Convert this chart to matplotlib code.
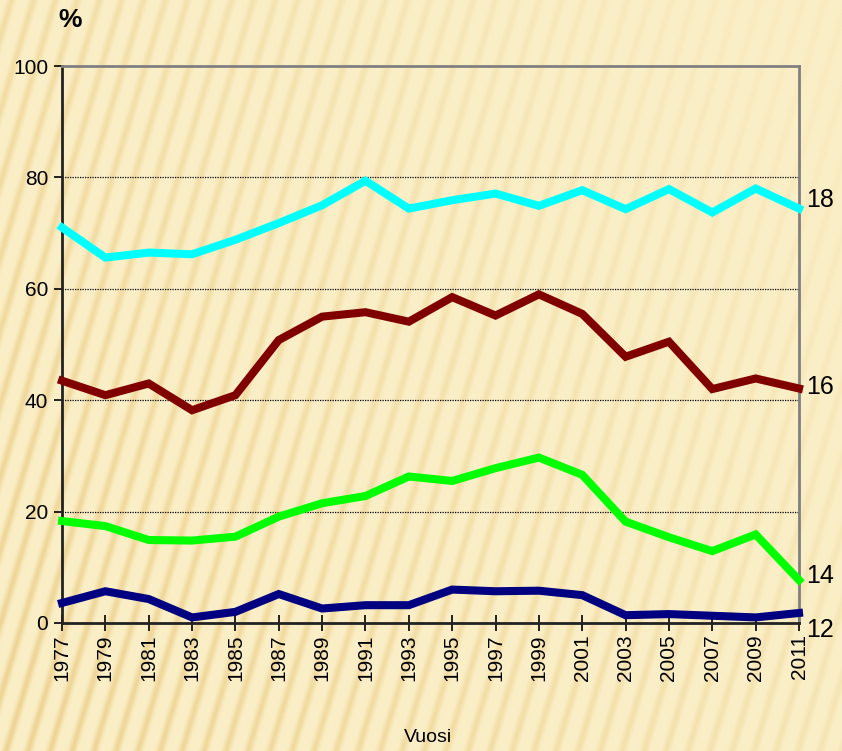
import numpy as np
import matplotlib
matplotlib.use("Agg")
import matplotlib.pyplot as plt

plt.rcParams['font.family'] = ['Liberation Sans', 'DejaVu Sans']

years = list(range(1977, 2012, 2))
year_labels = [str(y) for y in years]

series_18 = [71.0, 65.6, 66.5, 66.2, 68.8, 71.8, 75.0, 79.4, 74.4,
             75.9, 77.1, 74.9, 77.7, 74.3, 77.9, 73.7, 78.0, 74.4]
series_16 = [43.5, 40.9, 43.0, 38.2, 40.9, 50.8, 55.0, 55.8, 54.1,
             58.5, 55.2, 59.0, 55.5, 47.8, 50.5, 42.0, 43.9, 42.1]
series_14 = [18.3, 17.4, 14.9, 14.8, 15.5, 19.1, 21.5, 22.8, 26.3,
             25.5, 27.8, 29.7, 26.6, 18.2, 15.4, 12.9, 15.9, 7.7]
series_12 = [3.6, 5.7, 4.3, 1.0, 2.0, 5.2, 2.6, 3.2, 3.2,
             6.0, 5.7, 5.8, 5.0, 1.4, 1.6, 1.3, 1.0, 1.8]

series_names = ["18", "16", "14", "12"]
series_colors = ["#00FFFF", "#800000", "#00FF00", "#000080"]
label_offsets = [6, 1, 3, -12]  # vertical nudge of end labels, points

W, H = 842, 751
fig = plt.figure(figsize=(W / 100, H / 100), dpi=100)

# striped beige background
bg = fig.add_axes([0, 0, 1, 1], zorder=-10)
yy, xx = np.mgrid[0:H, 0:W]
phase = (xx - (H - yy) * 0.3) / 22.0 * 2 * np.pi
stripe = 0.5 + 0.5 * np.sin(phase)
fade = np.clip(1.0 - (xx / W) * 0.6 - ((H - yy) / H) * 0.35, 0.15, 1.0)
base = np.array([251, 239, 199]) / 255.0
dark = np.array([238, 212, 148]) / 255.0
amt = (stripe ** 3 * fade)[..., None]
img = base * (1 - amt) + dark * amt
bg.imshow(img, aspect='auto', interpolation='bilinear')
bg.axis('off')

ax = fig.add_axes([62 / W, 1 - 623 / H, (799 - 62) / W, (623 - 66) / H])
ax.patch.set_alpha(0)

all_series = [series_18, series_16, series_14, series_12]
for name, vals, col, off in zip(series_names, all_series, series_colors, label_offsets):
  ax.plot(years, vals, color=col, lw=5.8, solid_joinstyle='miter', zorder=3, clip_on=False)
  ax.annotate(name, xy=(years[-1], vals[-1]), xytext=(5, off), textcoords='offset points',
              ha='left', va='center', fontsize=18, annotation_clip=False)

ax.set_xlim(years[0], years[-1])
ax.set_ylim(0, 100)
ax.set_yticks([0, 20, 40, 60, 80, 100])
ax.set_xticks(years)
ax.set_xticklabels(year_labels, rotation=90)
ax.tick_params(axis='y', direction='out', length=6, width=1.2, labelsize=15, pad=4)
ax.tick_params(axis='x', direction='inout', length=12, width=1.2, labelsize=15, pad=2)

for v in [20, 40, 60, 80]:
  ax.axhline(v, color='black', lw=0.9, ls=(0, (1, 1)), zorder=1)

ax.spines['left'].set_color('#222222')
ax.spines['bottom'].set_color('#222222')
ax.spines['top'].set_color('#808080')
ax.spines['right'].set_color('#808080')
for s in ax.spines.values():
  s.set_linewidth(2)

fig.text(70 / W, 1 - 20 / H, "%", fontsize=19, fontweight='bold', ha='center', va='center')
fig.text(428 / W, 1 - 738 / H, "Vuosi", fontsize=14, ha='center', va='center')

fig.savefig("out.png", dpi=100)
